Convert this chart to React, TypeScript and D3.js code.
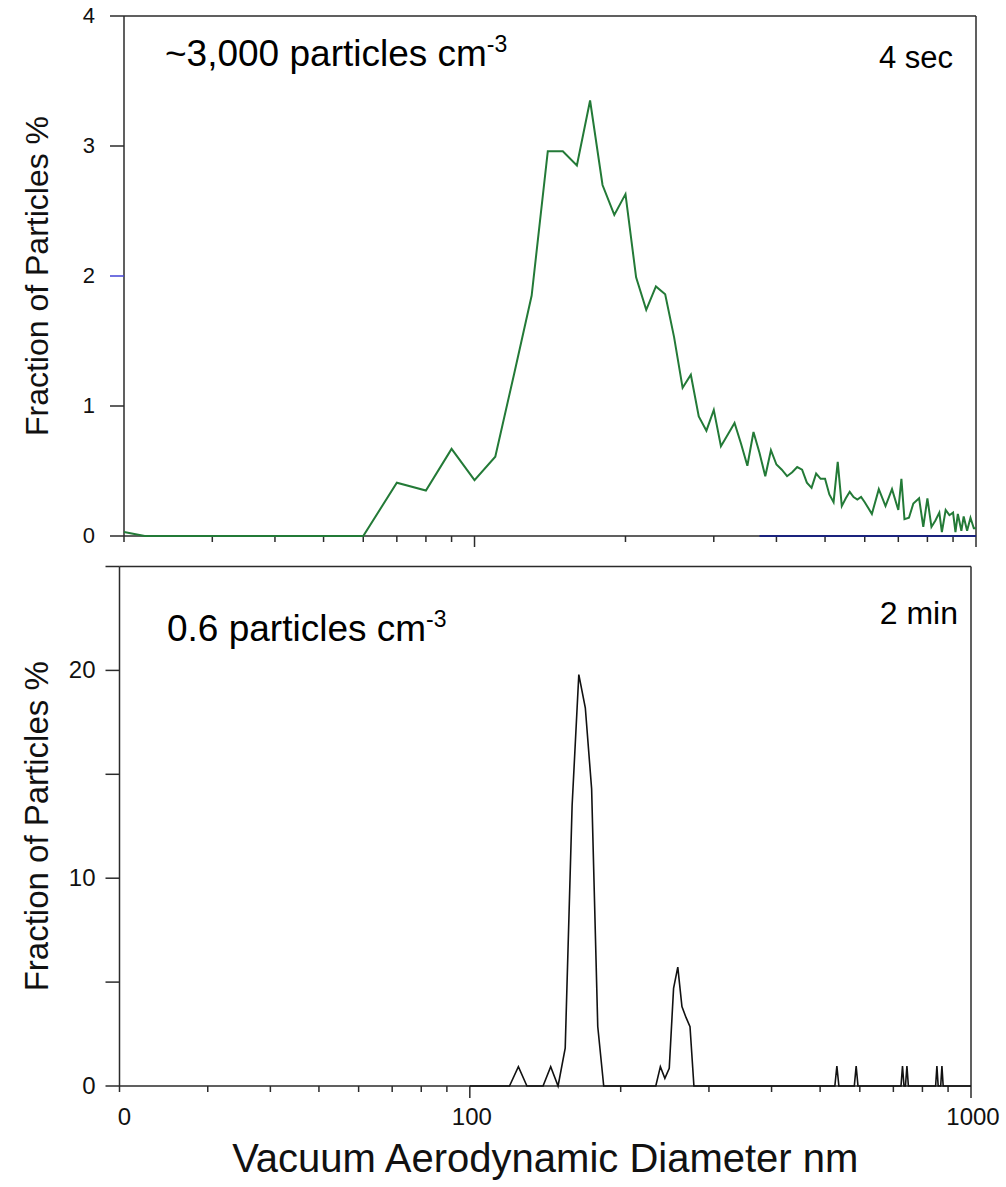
import React from "react";
import * as d3 from "d3";

// ---- data ----
const TOP_DIAM = [20, 22, 30, 40, 50, 60, 70, 80, 90, 100, 110, 120, 130, 140, 150, 160, 170, 180, 190, 200, 210, 220, 230, 240, 250, 260, 270, 280, 290, 300, 310, 320, 330, 340, 350, 360, 370, 380, 390, 400, 410, 420, 430, 440, 450, 460, 470, 480, 490, 500, 510, 520, 530, 540, 550, 560, 570, 580, 590, 600, 620, 640, 660, 680, 700, 710, 720, 735, 750, 770, 785, 800, 815, 830, 845, 855, 870, 885, 900, 910, 920, 935, 945, 960, 975, 990, 1000];
const TOP_FRAC = [0.03, 0, 0, 0, 0, 0, 0.41, 0.35, 0.67, 0.43, 0.61, 1.25, 1.85, 2.96, 2.96, 2.85, 3.35, 2.7, 2.47, 2.63, 1.99, 1.74, 1.92, 1.86, 1.53, 1.14, 1.24, 0.92, 0.81, 0.97, 0.69, 0.78, 0.87, 0.71, 0.54, 0.8, 0.64, 0.46, 0.66, 0.55, 0.51, 0.46, 0.49, 0.53, 0.51, 0.41, 0.37, 0.48, 0.44, 0.44, 0.32, 0.26, 0.57, 0.23, 0.29, 0.34, 0.3, 0.28, 0.3, 0.26, 0.17, 0.36, 0.23, 0.36, 0.2, 0.44, 0.13, 0.14, 0.25, 0.29, 0.07, 0.29, 0.07, 0.12, 0.18, 0.03, 0.2, 0.16, 0.18, 0.03, 0.17, 0.04, 0.15, 0.04, 0.14, 0.06, 0.06];
const TOP_ZERO_DIAM = [370, 1000];

const BOT_DIAM = [100, 120, 125, 130, 140, 145, 150, 155, 160, 165, 170, 175, 180, 185, 235, 240, 245, 250, 255, 260, 265, 270, 275, 280, 535, 540, 545, 585, 590, 595, 725, 730, 735, 740, 745, 750, 850, 855, 860, 870, 875, 880, 1000];
const BOT_FRAC = [0, 0, 0.93, 0, 0, 0.93, 0, 1.82, 13.5, 19.8, 18.2, 14.3, 2.86, 0, 0, 0.93, 0.37, 0.85, 4.7, 5.72, 3.82, 3.3, 2.86, 0, 0, 0.96, 0, 0, 0.96, 0, 0, 0.96, 0, 0, 0.96, 0, 0, 0.96, 0, 0, 0.96, 0, 0];

const X_TICKS = [20, 30, 40, 50, 60, 70, 80, 90, 100, 200, 300, 400, 500, 600, 700, 800, 900, 1000];
const X_MAJOR = [100, 1000];
const X_LABEL_VALUES = [20, 100, 1000];
const X_LABEL_TEXT = ["0", "100", "1000"];
const TOP_Y_TICKS = [0, 1, 2, 3, 4];
const BOT_Y_TICKS = [0, 5, 10, 15, 20, 25];
const BOT_Y_LABELS = [0, 10, 20];

const FONT = "'Liberation Sans', Arial, Helvetica, sans-serif";
const AXIS = "#2b2b2b";

export default function App() {
  const xTop = d3.scaleLog().domain([20, 1000]).range([124, 976]);
  const yTop = d3.scaleLinear().domain([0, 4]).range([536, 16]);
  const xBot = d3.scaleLog().domain([20, 1000]).range([119.5, 971]);
  const yBot = d3.scaleLinear().domain([0, 25]).range([1086, 566.5]);

  const topPts: [number, number][] = TOP_DIAM.map((d, i) => [d, TOP_FRAC[i]]);
  const botPts: [number, number][] = BOT_DIAM.map((d, i) => [d, BOT_FRAC[i]]);

  const topLine = d3.line<[number, number]>().x((p) => xTop(p[0])).y((p) => yTop(p[1]));
  const botLine = d3.line<[number, number]>().x((p) => xBot(p[0])).y((p) => yBot(p[1]));

  const [t0, t1] = xTop.range();
  const [tb, tt] = yTop.range();
  const [b0, b1] = xBot.range();
  const [bb, bt] = yBot.range();

  return (
    <svg width={1006} height={1187} style={{ position: "absolute", left: 0, top: 0, background: "#fff" }} fontFamily={FONT}>
      <rect x={0} y={0} width={1006} height={1187} fill="#fff" />

      {/* ===== TOP PANEL ===== */}
      <g>
        <line x1={t0} y1={tb} x2={t0} y2={tt} stroke={AXIS} strokeWidth={1.5} />
        <line x1={t0} y1={tt} x2={t1} y2={tt} stroke={AXIS} strokeWidth={1.5} />
        <line x1={t1} y1={tt} x2={t1} y2={tb} stroke={AXIS} strokeWidth={1.5} />
        <line x1={t0} y1={tb} x2={t1} y2={tb} stroke={AXIS} strokeWidth={1.5} />
        {TOP_Y_TICKS.map((v) => (
          <g key={"ty" + v}>
            <line x1={t0 - 14} x2={t0} y1={yTop(v)} y2={yTop(v)} stroke={v === 2 ? "#4343d6" : AXIS} strokeWidth={1.5} />
            <text x={t0 - 29} y={yTop(v) + 7} fontSize={22} textAnchor="end" fill="#111">{v}</text>
          </g>
        ))}
        {X_TICKS.map((v) => (
          <line key={"tx" + v} x1={xTop(v)} x2={xTop(v)} y1={tb} y2={tb + (X_MAJOR.includes(v) ? 11 : 6)} stroke={AXIS} strokeWidth={1.5} />
        ))}
        <line x1={xTop(TOP_ZERO_DIAM[0])} x2={xTop(TOP_ZERO_DIAM[1])} y1={yTop(0)} y2={yTop(0)} stroke="#1a237e" strokeWidth={2} />
        <path d={topLine(topPts) || ""} fill="none" stroke="#237a37" strokeWidth={2} strokeLinejoin="miter" />
        <text x={165} y={66} fontSize={37} fill="#000">
          ~3,000 particles cm<tspan dy={-14} fontSize={23}>-3</tspan>
        </text>
        <text x={953} y={68} fontSize={31} textAnchor="end" fill="#000">4 sec</text>
        <text transform={`translate(48, ${(tb + tt) / 2}) rotate(-90)`} fontSize={32} textAnchor="middle" fill="#111">
          Fraction of Particles %
        </text>
      </g>

      {/* ===== BOTTOM PANEL ===== */}
      <g>
        <line x1={b0} y1={bb} x2={b0} y2={bt} stroke={AXIS} strokeWidth={1.5} />
        <line x1={b0} y1={bt} x2={b1} y2={bt} stroke={AXIS} strokeWidth={1.5} />
        <line x1={b1} y1={bt} x2={b1} y2={bb} stroke={AXIS} strokeWidth={1.5} />
        <line x1={b0} y1={bb} x2={b1} y2={bb} stroke={AXIS} strokeWidth={1.5} />
        {BOT_Y_TICKS.map((v) => (
          <line key={"by" + v} x1={b0 - 14} x2={b0} y1={yBot(v)} y2={yBot(v)} stroke={AXIS} strokeWidth={1.5} />
        ))}
        {BOT_Y_LABELS.map((v) => (
          <text key={"byl" + v} x={b0 - 24} y={yBot(v) + 8} fontSize={24} textAnchor="end" fill="#111">{v}</text>
        ))}
        {X_TICKS.map((v) => (
          <line key={"bx" + v} x1={xBot(v)} x2={xBot(v)} y1={bb} y2={bb + (X_MAJOR.includes(v) ? 12 : 6)} stroke={AXIS} strokeWidth={1.5} />
        ))}
        {X_LABEL_VALUES.map((v, i) => (
          <text key={"bxl" + v} x={xBot(v) + (i === 0 ? 5 : 2)} y={1125} fontSize={24} textAnchor="middle" fill="#111">{X_LABEL_TEXT[i]}</text>
        ))}
        <path d={botLine(botPts) || ""} fill="none" stroke="#111" strokeWidth={1.6} />
        <text x={167} y={641} fontSize={37} fill="#000">
          0.6 particles cm<tspan dy={-14} fontSize={23}>-3</tspan>
        </text>
        <text x={958} y={624} fontSize={32} textAnchor="end" fill="#000">2 min</text>
        <text transform={`translate(48, ${(bb + bt) / 2}) rotate(-90)`} fontSize={33} textAnchor="middle" fill="#111">
          Fraction of Particles %
        </text>
        <text x={(b0 + b1) / 2} y={1172} fontSize={40} textAnchor="middle" fill="#111">
          Vacuum Aerodynamic Diameter nm
        </text>
      </g>
    </svg>
  );
}
